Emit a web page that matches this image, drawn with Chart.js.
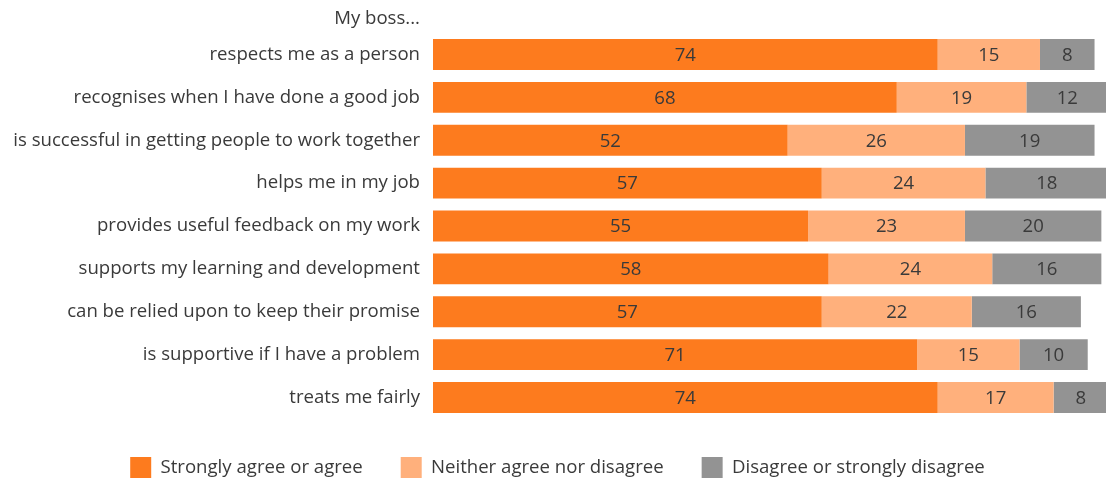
<!DOCTYPE html>
<html>
<head>
<meta charset="utf-8">
<script src="https://cdn.jsdelivr.net/npm/chart.js@4.4.1/dist/chart.umd.min.js"></script>
<style>
    html, body { margin: 0; padding: 0; background: #fff; overflow: hidden; }
    .chart-container { position: relative; width: 1116px; height: 480px; }
</style>
</head>
<body>
<div class="chart-container">
    <canvas id="bossChart"></canvas>
</div>
<script>
// Survey statements and the share (%) giving each answer
const heading = 'My boss...';
const statements = [
    'respects me as a person',
    'recognises when I have done a good job',
    'is successful in getting people to work together',
    'helps me in my job',
    'provides useful feedback on my work',
    'supports my learning and development',
    'can be relied upon to keep their promise',
    'is supportive if I have a problem',
    'treats me fairly'
];
const agree = [74, 68, 52, 57, 55, 58, 57, 71, 74];
const neutral = [15, 19, 26, 24, 23, 24, 22, 15, 17];
const disagree = [8, 12, 19, 18, 20, 16, 16, 10, 8];

const FONT = '"Open Sans", sans-serif';
const SIZE = 18.6;
const TEXT = '#3a3a3a';

// Writes each segment's value in the middle of the segment
const segmentLabels = {
    id: 'segmentLabels',
    afterDatasetsDraw(chart) {
        const ctx = chart.ctx;
        ctx.save();
        ctx.font = `${SIZE}px ${FONT}`;
        ctx.fillStyle = TEXT;
        ctx.textAlign = 'center';
        ctx.textBaseline = 'middle';
        chart.data.datasets.forEach((ds, i) => {
            chart.getDatasetMeta(i).data.forEach((bar, j) => {
                const x = (bar.x + bar.base) / 2;
                ctx.fillText(ds.data[j], x, bar.y + 1);
            });
        });
        ctx.restore();
    }
};

// Lead-in text above the statement labels
const leadIn = {
    id: 'leadIn',
    afterDraw(chart) {
        const ctx = chart.ctx;
        const y = chart.scales.y;
        ctx.save();
        ctx.font = `${SIZE}px ${FONT}`;
        ctx.fillStyle = TEXT;
        ctx.textAlign = 'right';
        ctx.textBaseline = 'middle';
        ctx.fillText(heading, y.right - 13, chart.chartArea.top - 14);
        ctx.restore();
    }
};

const ctx = document.getElementById('bossChart').getContext('2d');

new Chart(ctx, {
    type: 'bar',
    data: {
        labels: statements,
        datasets: [
            { label: 'Strongly agree or agree', data: agree, backgroundColor: '#fd7b1e' },
            { label: 'Neither agree nor disagree', data: neutral, backgroundColor: '#ffb07c' },
            { label: 'Disagree or strongly disagree', data: disagree, backgroundColor: '#939393' }
        ]
    },
    options: {
        indexAxis: 'y',
        responsive: true,
        maintainAspectRatio: false,
        animation: false,
        datasets: {
            bar: {
                barPercentage: 0.72,
                categoryPercentage: 1,
                borderWidth: 0
            }
        },
        layout: {
            padding: { top: 33, right: 1, bottom: -8, left: 0 }
        },
        plugins: {
            legend: {
                position: 'bottom',
                labels: {
                    color: TEXT,
                    font: { family: FONT, size: SIZE },
                    boxWidth: 21,
                    boxHeight: 21,
                    padding: 38
                }
            },
            tooltip: { enabled: false }
        },
        scales: {
            x: {
                stacked: true,
                min: 0,
                max: 100,
                display: false
            },
            y: {
                stacked: true,
                grid: { display: false, drawTicks: false },
                border: { display: false },
                ticks: {
                    color: TEXT,
                    font: { family: FONT, size: SIZE },
                    padding: 13
                },
                afterFit: (scale) => { scale.width = 433; }
            }
        }
    },
    plugins: [segmentLabels, leadIn]
});
</script>
</body>
</html>
